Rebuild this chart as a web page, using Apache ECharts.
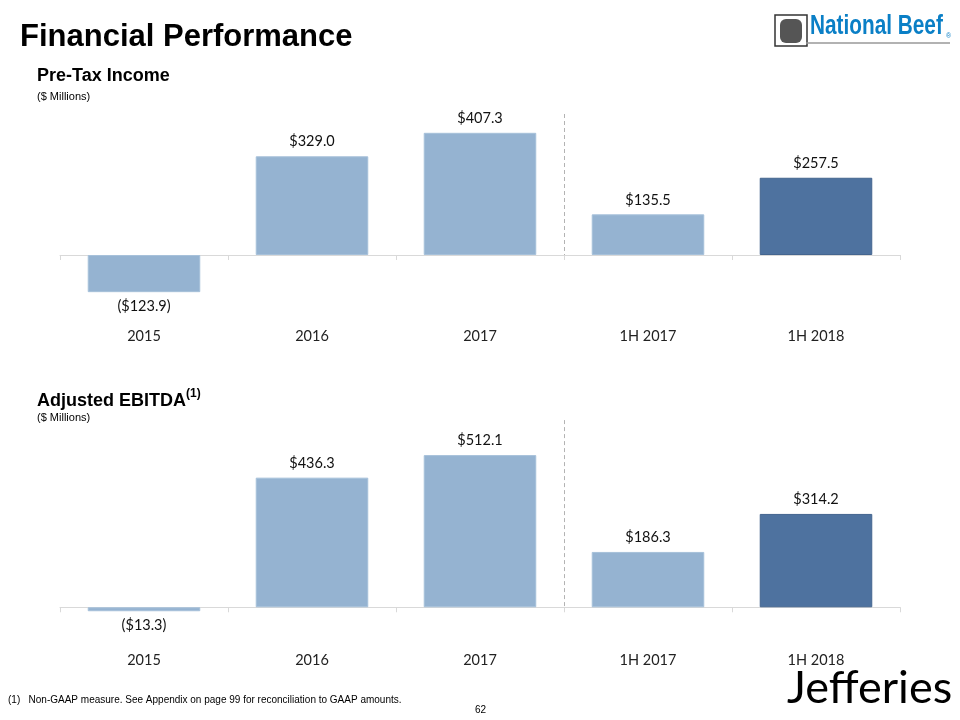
<!DOCTYPE html>
<html>
<head>
<meta charset="utf-8">
<script src="https://cdn.jsdelivr.net/npm/echarts@6/dist/echarts.min.js"></script>
<style>
html,body{margin:0;padding:0;background:#fff;}
#chart{width:960px;height:720px;}
</style>
</head>
<body>
<div id="chart"></div>
<script>
const categories = ['2015', '2016', '2017', '1H 2017', '1H 2018'];
const preTaxIncome = [-123.9, 329.0, 407.3, 135.5, 257.5];
const adjustedEbitda = [-13.3, 436.3, 512.1, 186.3, 314.2];

const LIGHT = '#95b3d1';
const DARK = '#4e729f';
const labelFont = 'Lato, "Open Sans", "Noto Sans", sans-serif';

function fmt(v) {
  return v < 0 ? '($' + Math.abs(v).toFixed(1) + ')' : '$' + v.toFixed(1);
}
function buildData(arr) {
  return arr.map((v, i) => {
    const last = i === arr.length - 1;
    return {
      value: v,
      itemStyle: {
        color: last ? DARK : LIGHT,
        borderColor: last ? '#44658f' : '#a7c1da',
        borderWidth: 1
      },
      label: { position: v < 0 ? 'bottom' : 'top' }
    };
  });
}

const chart = echarts.init(document.getElementById('chart'));

const xAxisBase = {
  type: 'category',
  data: categories,
  axisLine: { onZero: true, lineStyle: { color: '#d9d9d9', width: 1 } },
  axisTick: { show: true, alignWithLabel: false, length: 5, lineStyle: { color: '#d9d9d9' } },
  axisLabel: { color: '#222', fontSize: 14.5, fontFamily: labelFont },
  splitLine: { show: false }
};
const yAxisBase = {
  type: 'value',
  show: false,
  splitLine: { show: false }
};
const seriesLabel = {
  show: true,
  fontSize: 14.5,
  color: '#111',
  fontFamily: labelFont,
  distance: 7,
  formatter: p => fmt(p.value)
};

chart.setOption({
  animation: false,
  grid: [
    { left: 60, right: 60, top: 90, height: 210 },
    { left: 60, right: 60, top: 429, height: 208 }
  ],
  xAxis: [
    Object.assign({}, xAxisBase, { gridIndex: 0, axisLabel: Object.assign({}, xAxisBase.axisLabel, { margin: 29 }) }),
    Object.assign({}, xAxisBase, { gridIndex: 1, axisLabel: Object.assign({}, xAxisBase.axisLabel, { margin: 16 }) })
  ],
  yAxis: [
    Object.assign({}, yAxisBase, { gridIndex: 0, min: -150, max: 550 }),
    Object.assign({}, yAxisBase, { gridIndex: 1, min: -100, max: 600 })
  ],
  series: [
    {
      type: 'bar', xAxisIndex: 0, yAxisIndex: 0,
      barCategoryGap: '33%',
      data: buildData(preTaxIncome),
      label: seriesLabel
    },
    {
      type: 'bar', xAxisIndex: 1, yAxisIndex: 1,
      barCategoryGap: '33%',
      data: buildData(adjustedEbitda),
      label: seriesLabel
    }
  ]
});

// separator lines between actual years and half-year periods
function sepLine(idx, yTop, yBottom) {
  const xa = chart.convertToPixel({ xAxisIndex: idx }, categories[2]);
  const xb = chart.convertToPixel({ xAxisIndex: idx }, categories[3]);
  const x = Math.round((xa + xb) / 2) + 0.5;
  const y1 = chart.convertToPixel({ yAxisIndex: idx }, yTop);
  const y2 = chart.convertToPixel({ yAxisIndex: idx }, yBottom);
  return {
    type: 'line',
    shape: { x1: x, y1: y1, x2: x, y2: y2 },
    style: { stroke: '#b3b3b3', lineWidth: 1, lineDash: [4, 3] }
  };
}

const arial = 'Arial, "Liberation Sans", sans-serif';
chart.setOption({
  graphic: [
    { type: 'text', left: 20, top: 22, style: { text: 'Financial Performance', font: 'bold 31px ' + arial, fill: '#000' } },
    { type: 'text', left: 37, top: 67, style: { text: 'Pre-Tax Income', font: 'bold 18px ' + arial, fill: '#000' } },
    { type: 'text', left: 37, top: 91, style: { text: '($ Millions)', font: '11px ' + arial, fill: '#000' } },
    {
      type: 'text', left: 37, top: 388,
      style: {
        text: '{a|Adjusted EBITDA}{s|(1)}',
        rich: {
          a: { font: 'bold 18px ' + arial, fill: '#000', verticalAlign: 'bottom', lineHeight: 22 },
          s: { font: 'bold 12px ' + arial, fill: '#000', verticalAlign: 'top', lineHeight: 22, padding: [0, 0, 10, 0] }
        }
      }
    },
    { type: 'text', left: 37, top: 412, style: { text: '($ Millions)', font: '11px ' + arial, fill: '#000' } },
    sepLine(0, 470, -10),
    sepLine(1, 630, -10),
    { type: 'text', left: 8, top: 695, style: { text: '(1)   Non-GAAP measure. See Appendix on page 99 for reconciliation to GAAP amounts.', font: '10px ' + arial, fill: '#000' } },
    { type: 'text', left: 475, top: 705, style: { text: '62', font: '10px ' + arial, fill: '#000' } },
    { type: 'text', left: 787, top: 666, style: { text: 'Jefferies', font: '45px Lato, "Open Sans", sans-serif', fill: '#000' } },
    // National Beef logo (text rendition)
    { type: 'rect', shape: { x: 775, y: 15, width: 32, height: 31 }, style: { fill: '#fff', stroke: '#333', lineWidth: 1.5 } },
    { type: 'rect', shape: { x: 780, y: 19, width: 22, height: 24, r: 6 }, style: { fill: '#555' } },
    { type: 'text', x: 810, y: 13, scaleX: 0.77, originX: 0, originY: 0, style: { x: 0, y: 0, text: 'National Beef', font: '900 27px ' + arial, fill: '#0a7fc6' } },
    { type: 'text', left: 946, top: 33, style: { text: '®', font: '7px ' + arial, fill: '#0a7fc6' } },
    { type: 'line', shape: { x1: 806, y1: 43, x2: 950, y2: 43 }, style: { stroke: '#999', lineWidth: 1.5 } }
  ]
});
</script>
</body>
</html>
